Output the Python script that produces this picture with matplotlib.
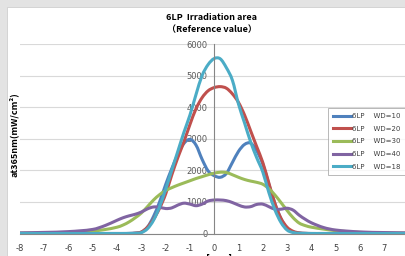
import matplotlib
matplotlib.use('Agg')
import matplotlib.pyplot as plt
from matplotlib.patches import Rectangle, PathPatch
from matplotlib.path import Path

plt.rcParams['axes.unicode_minus'] = False

# position [mm]
x = [-8, -7, -6, -5, -4.5, -4, -3.75, -3.5, -3.25, -3, -2.75, -2.5, -2.25, -2, -1.75, -1.5, -1.25, -1,
     -0.75, -0.5, -0.25, 0, 0.25, 0.5, 0.75, 1, 1.25, 1.5, 1.75, 2, 2.25, 2.5, 2.75, 3, 3.25, 3.5,
     3.75, 4, 4.5, 5, 6, 7, 8]

wd10 = [0, 0, 0, 0, 0, 0, 0, 5, 15, 40, 200, 540, 1000, 1550, 2050, 2500, 2850, 2980,
        2800, 2350, 1980, 1830, 1780, 1900, 2250, 2600, 2820, 2860, 2620, 2200, 1560, 950, 470, 170, 50, 15,
        5, 0, 0, 0, 0, 0, 0]
wd20 = [0, 0, 0, 0, 0, 0, 0, 0, 10, 50, 200, 450, 800, 1250, 1850, 2400, 2900, 3450,
        3950, 4300, 4520, 4620, 4650, 4600, 4420, 4150, 3750, 3250, 2750, 2250, 1600, 950, 480, 200, 70, 20,
        5, 0, 0, 0, 0, 0, 0]
wd30 = [10, 15, 30, 80, 125, 200, 270, 370, 500, 650, 850, 1060, 1230, 1360, 1450, 1530, 1600, 1670,
        1740, 1800, 1860, 1910, 1940, 1930, 1860, 1780, 1710, 1660, 1620, 1560, 1420, 1220, 980, 730, 500, 330,
        250, 200, 140, 90, 35, 15, 10]
wd40 = [20, 35, 60, 130, 250, 420, 500, 560, 610, 680, 780, 840, 830, 790, 810, 900, 960, 930,
        880, 930, 1030, 1060, 1060, 1040, 980, 900, 840, 850, 920, 930, 850, 770, 770, 800, 740, 580,
        450, 340, 190, 110, 50, 30, 20]
wd18 = [0, 0, 0, 0, 0, 0, 0, 0, 5, 30, 150, 420, 850, 1400, 2000, 2600, 3200, 3750,
        4400, 5000, 5350, 5540, 5530, 5250, 4850, 4100, 3500, 2900, 2400, 1950, 1300, 750, 350, 110, 30, 8,
        2, 0, 0, 0, 0, 0, 0]

series = [('6LP    WD=10', wd10, '#4F81BD'),
          ('6LP    WD=20', wd20, '#C0504D'),
          ('6LP    WD=30', wd30, '#9BBB59'),
          ('6LP    WD=40', wd40, '#8064A2'),
          ('6LP    WD=18', wd18, '#4BACC6')]


def smooth_path(xs, ys):
    # smoothed line like Excel: cubic bezier through every data point
    n = len(xs)
    slopes = []
    for i in range(n):
        a = max(i - 1, 0)
        b = min(i + 1, n - 1)
        slopes.append((ys[b] - ys[a]) / (xs[b] - xs[a]))
    verts = [(xs[0], ys[0])]
    codes = [Path.MOVETO]
    for i in range(n - 1):
        h = (xs[i + 1] - xs[i]) / 3
        verts += [(xs[i] + h, ys[i] + slopes[i] * h),
                  (xs[i + 1] - h, ys[i + 1] - slopes[i + 1] * h),
                  (xs[i + 1], ys[i + 1])]
        codes += [Path.CURVE4] * 3
    return Path(verts, codes)


W, H = 406, 256
fig = plt.figure(figsize=(W / 100, H / 100), dpi=100)
fig.patch.set_facecolor('#e3e3e3')
fig.patches.append(Rectangle((7 / W, 0), 1.0, 1 - 7 / H, transform=fig.transFigure,
                             facecolor='white', edgecolor='#cfcfcf', lw=0.6, zorder=-5))

ax = fig.add_axes([20 / W, (H - 233.5) / H, 386 / W, (233.5 - 44) / H])
ax.set_facecolor('none')

for label, y, c in series:
    ax.add_patch(PathPatch(smooth_path(x, y), fill=False, edgecolor=c, lw=2.2,
                           capstyle='round', joinstyle='round'))
    ax.plot([], [], color=c, lw=2.2, label=label)

ax.set_xlim(-8, 7.9)
ax.set_ylim(0, 6000)
ax.set_xticks(range(-8, 8))
ax.set_yticks(range(0, 7000, 1000))
ax.yaxis.grid(True, color='#d9d9d9', lw=0.8)
ax.set_axisbelow(True)

for s in ['top', 'right']:
    ax.spines[s].set_visible(False)
ax.spines['left'].set_position(('data', 0))
ax.spines['left'].set_color('#868686')
ax.spines['left'].set_linewidth(0.8)
ax.spines['bottom'].set_color('#868686')
ax.spines['bottom'].set_linewidth(0.8)
ax.tick_params(axis='y', length=0, pad=5, labelsize=6, labelcolor='#595959')
ax.tick_params(axis='x', length=0, pad=7.5, labelsize=6, labelcolor='#404040')

font = ['Noto Sans CJK JP', 'DejaVu Sans']
fig.text(212 / W, 1 - 18 / H, '6LP  Irradiation area', ha='center', va='center',
         fontsize=6.5, fontweight='bold', family=font)
fig.text(212 / W, 1 - 30 / H, '（Reference value）', ha='center', va='center',
         fontsize=6.5, fontweight='bold', family=font)
fig.text(14 / W, 1 - 135 / H, 'at365nm(mW/cm²)', rotation=90, ha='center', va='center',
         fontsize=6.5, fontweight='bold', family=font)
fig.text(219 / W, 1 - 253.5 / H, '[mm]', ha='center', va='top', fontsize=7,
         fontweight='bold', family=font)

leg = ax.legend(loc='upper left', bbox_to_anchor=(328 / W, 1 - 108 / H),
                bbox_transform=fig.transFigure, borderaxespad=0, fontsize=5,
                frameon=True, fancybox=False, edgecolor='#a6a6a6', handlelength=2.6,
                handletextpad=0.15, labelspacing=0.95, borderpad=0.75)
leg.get_frame().set_linewidth(0.7)
for t in leg.get_texts():
    t.set_color('#404040')

fig.savefig('out.png', dpi=100)
